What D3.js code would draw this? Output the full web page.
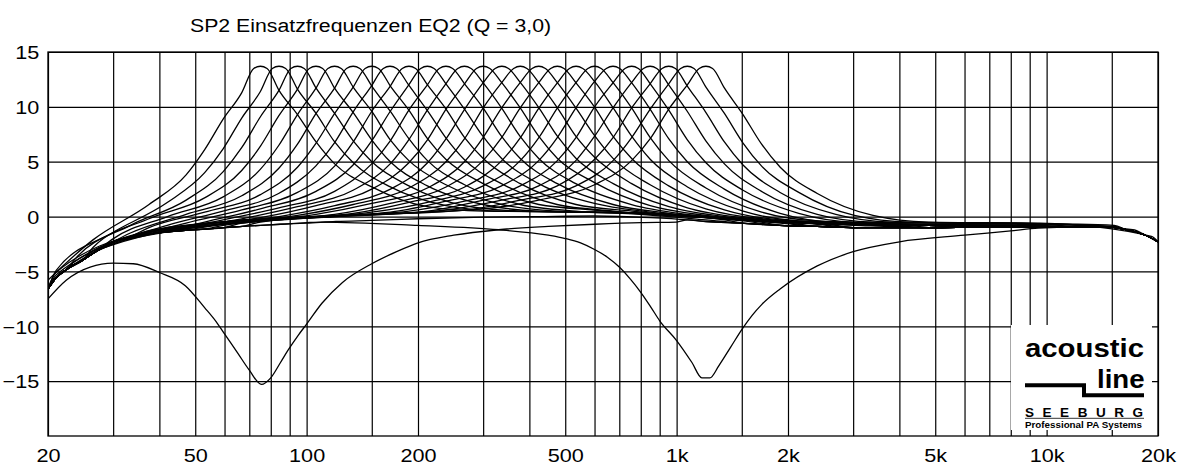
<!DOCTYPE html>
<html>
<head>
<meta charset="utf-8">
<script src="https://cdn.jsdelivr.net/npm/d3@7"></script>
<style>
  html, body { margin: 0; padding: 0; background: #fff; }
  svg { display: block; font-family: "Liberation Sans", Arial, sans-serif; }
</style>
</head>
<body>
<div id="chart"></div>
<script>
// Axis data
const gridHz = [20, 30, 40, 50, 60, 70, 80, 90, 100, 150, 200, 300, 400, 500, 600, 700, 800, 900,
    1000, 1500, 2000, 3000, 4000, 5000, 6000, 7000, 8000, 9000, 10000, 15000, 20000]
const xLabelHz = [20, 50, 100, 200, 500, 1000, 2000, 5000, 10000, 20000]
const xLabels = ["20", "50", "100", "200", "500", "1k", "2k", "5k", "10k", "20k"]
const yTicks = [-15, -10, -5, 0, 5, 10, 15]

// Flat response (EQ off)
const baseHz = [20, 21, 22.5, 25, 27.5, 30, 33, 37.5, 42, 47, 53, 60, 67, 75, 85, 100, 120, 150, 200, 300,
    420, 600, 850, 1070, 1200, 1500, 1900, 2400, 3000, 4800, 6800, 9600, 12000, 15000, 16400, 18500, 20000]
const baseDb = [-6.6, -5.6, -4.8, -3.9, -3.0, -2.3, -1.9, -1.6, -1.4, -1.25, -1.15, -1.0, -0.9, -0.8, -0.7, -0.6, -0.45, -0.35, -0.2, -0.05,
    0, 0.05, -0.1, -0.3, -0.45, -0.6, -0.8, -0.9, -1.0, -1.0, -0.95, -0.95, -0.95, -0.95, -1.2, -1.7, -2.3]

// EQ2 boost curves: centre frequencies and read points at octave offsets round each centre
const eqCenters = [75, 84.2, 94.5, 106, 119, 133.6, 150, 168, 189, 212, 238, 267, 300, 337, 378, 424,
    476, 535, 600, 673, 756, 848, 952, 1069, 1200]
const eqOffsetsOct = [-4, -3, -2, -1.5, -1, -0.667, -0.5, -0.333, -0.167, -0.06, 0, 0.06,
    0.167, 0.333, 0.5, 0.667, 1, 1.5, 2, 3, 4]
const eqDb = [
    [null, null, -6.7, -2.1, 1.1, 3.8, 6.1, 8.9, 11.3, 13.5, 13.7, 13.5, 11.5, 9.3, 6.8, 4.8, 2.7, 0.9, 0.5, 0.4, -0.3],
    [null, null, -4.9, -1.5, 1.3, 4.0, 6.2, 9.0, 11.4, 13.5, 13.7, 13.5, 11.6, 9.4, 6.8, 4.9, 2.7, 1.0, 0.5, 0.4, -0.3],
    [null, null, -3.9, -0.8, 1.5, 4.1, 6.3, 9.1, 11.5, 13.5, 13.7, 13.5, 11.7, 9.4, 6.9, 5.0, 2.8, 1.0, 0.5, 0.3, -0.4],
    [null, null, -2.8, -0.2, 1.7, 4.2, 6.4, 9.2, 11.6, 13.5, 13.7, 13.5, 11.7, 9.5, 7.0, 5.0, 2.8, 1.1, 0.5, 0.3, -0.5],
    [null, null, -2.1, 0.0, 1.8, 4.3, 6.5, 9.3, 11.7, 13.5, 13.7, 13.5, 11.8, 9.6, 7.0, 5.1, 2.9, 1.1, 0.5, 0.2, -0.6],
    [null, null, -1.5, 0.2, 1.9, 4.4, 6.6, 9.4, 11.7, 13.5, 13.7, 13.5, 11.9, 9.6, 7.1, 5.1, 2.9, 1.1, 0.5, 0.1, -0.7],
    [null, null, -1.0, 0.4, 2.0, 4.5, 6.7, 9.4, 11.8, 13.5, 13.7, 13.5, 11.9, 9.7, 7.1, 5.2, 3.0, 1.1, 0.6, -0.1, -0.7],
    [null, -5.1, -0.8, 0.5, 2.1, 4.6, 6.7, 9.5, 11.9, 13.5, 13.7, 13.5, 12.0, 9.7, 7.2, 5.2, 3.0, 1.1, 0.5, -0.2, -0.8],
    [null, -4.1, -0.6, 0.6, 2.2, 4.6, 6.8, 9.6, 11.9, 13.5, 13.7, 13.5, 12.0, 9.8, 7.2, 5.3, 3.0, 1.1, 0.5, -0.3, -0.8],
    [null, -3.1, -0.5, 0.7, 2.3, 4.7, 6.9, 9.6, 12.0, 13.5, 13.7, 13.5, 12.1, 9.8, 7.3, 5.3, 3.0, 1.2, 0.4, -0.4, -0.8],
    [null, -2.4, -0.3, 0.8, 2.3, 4.8, 6.9, 9.7, 12.0, 13.5, 13.7, 13.5, 12.1, 9.9, 7.3, 5.3, 3.0, 1.1, 0.3, -0.5, -0.8],
    [null, -1.8, -0.2, 0.9, 2.4, 4.8, 7.0, 9.7, 12.1, 13.5, 13.7, 13.5, 12.2, 9.9, 7.3, 5.3, 3.0, 1.1, 0.2, -0.5, -0.8],
    [null, -1.3, -0.1, 1.0, 2.5, 4.9, 7.0, 9.8, 12.1, 13.5, 13.7, 13.5, 12.2, 9.9, 7.3, 5.3, 3.1, 1.0, 0.1, -0.6, -0.8],
    [-5.3, -1.1, 0.0, 1.0, 2.5, 4.9, 7.1, 9.8, 12.2, 13.5, 13.7, 13.5, 12.2, 9.9, 7.3, 5.3, 3.0, 0.9, 0.0, -0.6, -0.8],
    [-4.3, -0.9, 0.1, 1.1, 2.6, 5.0, 7.1, 9.9, 12.2, 13.5, 13.7, 13.5, 12.2, 9.9, 7.3, 5.4, 3.0, 0.8, -0.1, -0.7, -0.8],
    [-3.3, -0.7, 0.2, 1.2, 2.6, 5.0, 7.2, 9.9, 12.2, 13.5, 13.7, 13.5, 12.2, 9.9, 7.4, 5.3, 2.9, 0.7, -0.2, -0.7, -0.8],
    [-2.6, -0.5, 0.2, 1.2, 2.7, 5.1, 7.2, 9.9, 12.2, 13.5, 13.7, 13.5, 12.2, 10.0, 7.3, 5.3, 2.8, 0.6, -0.3, -0.7, -0.8],
    [-2.0, -0.4, 0.3, 1.3, 2.7, 5.1, 7.2, 9.9, 12.2, 13.5, 13.7, 13.5, 12.3, 9.9, 7.3, 5.2, 2.7, 0.5, -0.4, -0.7, -0.8],
    [-1.6, -0.3, 0.4, 1.3, 2.8, 5.1, 7.2, 9.9, 12.2, 13.5, 13.7, 13.5, 12.2, 9.9, 7.2, 5.1, 2.6, 0.4, -0.4, -0.7, -0.8],
    [-1.3, -0.2, 0.4, 1.4, 2.8, 5.1, 7.2, 9.9, 12.3, 13.5, 13.7, 13.5, 12.2, 9.8, 7.1, 5.0, 2.5, 0.3, -0.5, -0.6, -0.8],
    [-1.1, -0.1, 0.5, 1.4, 2.8, 5.1, 7.2, 10.0, 12.2, 13.5, 13.7, 13.5, 12.1, 9.7, 7.0, 4.9, 2.4, 0.3, -0.5, -0.6, -0.8],
    [-0.95, -0.1, 0.5, 1.5, 2.8, 5.1, 7.3, 9.9, 12.2, 13.5, 13.7, 13.5, 12.0, 9.6, 6.9, 4.8, 2.3, 0.2, -0.5, -0.6, -0.8],
    [-0.8, 0.0, 0.6, 1.5, 2.8, 5.2, 7.2, 9.9, 12.1, 13.5, 13.7, 13.5, 11.9, 9.5, 6.8, 4.7, 2.2, 0.2, -0.5, -0.6, -0.8],
    [-0.6, 0.1, 0.6, 1.5, 2.8, 5.1, 7.2, 9.8, 12.1, 13.5, 13.7, 13.5, 11.8, 9.4, 6.7, 4.6, 2.2, 0.1, -0.5, -0.6, -1.2],
    [-0.5, 0.2, 0.7, 1.5, 2.9, 5.1, 7.1, 9.8, 12.0, 13.5, 13.7, 13.5, 11.7, 9.3, 6.6, 4.5, 2.1, 0.1, -0.5, -0.6, -1.8]
]

// Cut curves (low and high end of the range)
const cutLowHz = [20, 22.4, 26, 30, 34, 40, 47, 53, 57, 60, 65, 70, 75.5, 80, 85, 89, 95, 100, 110, 125,
    150, 175, 200, 250, 330, 450, 600, 800, 1000]
const cutLowDb = [-7.5, -5.8, -4.6, -4.25, -4.3, -5.1, -6.3, -8.3, -9.6, -10.7, -12.4, -14.0, -15.3, -14.7, -13.3, -12.2, -10.8, -9.8, -7.9, -6.0,
    -4.3, -3.2, -2.4, -1.7, -1.2, -0.9, -0.7, -0.55, -0.5]
const cutHighHz = [100, 110, 200, 330, 450, 500, 550, 600, 650, 700, 750, 800, 850, 900, 1000, 1100, 1170, 1230, 1300,
    1400, 1500, 1600, 1700, 1904, 2400, 3000, 4000, 6000, 8000, 9500]
const cutHighDb = [-0.55, -0.5, -0.8, -1.2, -1.7, -2.0, -2.4, -3.0, -3.7, -4.6, -5.7, -6.9, -8.2, -9.5, -11.3, -13.3, -14.7, -14.7, -13.6,
    -11.9, -10.3, -9.0, -8.0, -6.6, -4.5, -3.2, -2.3, -1.7, -1.3, -1.05]

const titleText = "SP2 Einsatzfrequenzen EQ2 (Q = 3,0)"

// Layout
const width = 1182
const height = 466
const margin = { top: 52, right: 24, bottom: 30, left: 48 }
const graphWidth = width - margin.left - margin.right
const graphHeight = height - margin.top - margin.bottom
const stretch = 1.14

const svg = d3.select("#chart")
    .append("svg")
    .attr("width", width)
    .attr("height", height)

const x = d3.scaleLog().domain([20, 20000]).range([0, graphWidth])
const y = d3.scaleLinear().domain([-20, 15]).range([graphHeight, 0])

const graph = svg.append("g")
    .attr("transform", `translate(${margin.left}, ${margin.top})`)

graph.append("clipPath").attr("id", "plotClip")
    .append("rect")
    .attr("width", graphWidth)
    .attr("height", graphHeight)

// Grid via axes
const xAxis = d3.axisBottom(x)
    .tickValues(gridHz)
    .tickSize(-graphHeight)
    .tickFormat(d => {
        const i = xLabelHz.indexOf(d)
        return i < 0 ? "" : xLabels[i]
    })

const yAxis = d3.axisLeft(y)
    .tickValues(yTicks)
    .tickSize(-graphWidth)

const xAxisGroup = graph.append("g")
    .attr("transform", `translate(0, ${graphHeight})`)
    .call(xAxis)
xAxisGroup.select(".domain").remove()
xAxisGroup.selectAll("line")
    .attr("stroke", "#000")
    .attr("stroke-width", 1.2)
xAxisGroup.selectAll("text")
    .attr("y", 0)
    .attr("dy", null)
    .attr("transform", `translate(0, 25.5) scale(${stretch}, 1)`)
    .attr("fill", "#000")
    .style("font-size", "19px")
    .style("font-family", "'Liberation Sans', Arial, sans-serif")

const yAxisGroup = graph.append("g")
    .call(yAxis)
yAxisGroup.select(".domain").remove()
yAxisGroup.selectAll("line")
    .attr("stroke", "#000")
    .attr("stroke-width", 1.2)
yAxisGroup.selectAll("text")
    .attr("x", 0)
    .attr("dy", "0.36em")
    .attr("transform", `translate(-8.7, 0) scale(${stretch}, 1)`)
    .attr("fill", "#000")
    .style("font-size", "19px")
    .style("font-family", "'Liberation Sans', Arial, sans-serif")

// Curves
const line = d3.line()
    .x(d => x(d[0]))
    .y(d => y(d[1]))
    .curve(d3.curveMonotoneX)

const basePts = baseHz.map((f, i) => [f, baseDb[i]])

// joins read points of a curve with the flat response outside their range
const withBase = pts => {
    const lo = pts[0][0], hi = pts[pts.length - 1][0]
    return basePts.filter(p => p[0] < lo * 0.97)
        .concat(pts, basePts.filter(p => p[0] > hi * 1.03))
}

const curves = [basePts]
eqCenters.forEach((c, k) => {
    const pts = eqOffsetsOct
        .map((o, i) => [c * Math.pow(2, o), eqDb[k][i]])
        .filter(p => p[1] !== null)
    curves.push(withBase(pts))
})
curves.push(withBase(cutLowHz.map((f, i) => [f, cutLowDb[i]])))
curves.push(withBase(cutHighHz.map((f, i) => [f, cutHighDb[i]])))

const curveGroup = graph.append("g")
    .attr("clip-path", "url(#plotClip)")

curveGroup.selectAll(".curve")
    .data(curves)
    .enter()
    .append("path")
    .attr("class", "curve")
    .attr("d", line)
    .attr("fill", "none")
    .attr("stroke", "#000")
    .attr("stroke-width", 1.3)

// Frame
graph.append("rect")
    .attr("width", graphWidth)
    .attr("height", graphHeight)
    .attr("fill", "none")
    .attr("stroke", "#000")
    .attr("stroke-width", 1.3)

// Title
svg.append("text")
    .attr("transform", "translate(190, 31.5) scale(1.12, 1)")
    .style("font-size", "19px")
    .attr("fill", "#000")
    .text(titleText)

// Logo
const logo = svg.append("g")
logo.append("rect")
    .attr("x", 1011)
    .attr("y", 325)
    .attr("width", 141)
    .attr("height", 105)
    .attr("fill", "#fff")
logo.append("text")
    .attr("x", 1025).attr("y", 356.7)
    .attr("textLength", 119).attr("lengthAdjust", "spacingAndGlyphs")
    .style("font-size", "25.5px").style("font-weight", "bold")
    .text("acoustic")
logo.append("text")
    .attr("x", 1097).attr("y", 388.3)
    .attr("textLength", 47.5).attr("lengthAdjust", "spacingAndGlyphs")
    .style("font-size", "25.5px").style("font-weight", "bold")
    .text("line")
logo.append("path")
    .attr("d", "M1025,385.3 H1084 V395.3 H1144")
    .attr("fill", "none")
    .attr("stroke", "#000")
    .attr("stroke-width", 4)
logo.append("text")
    .attr("x", 1025).attr("y", 416.7)
    .attr("textLength", 118).attr("lengthAdjust", "spacing")
    .style("font-size", "13.5px").style("font-weight", "bold")
    .text("SEEBURG")
logo.append("line")
    .attr("x1", 1025).attr("x2", 1144)
    .attr("y1", 418.3).attr("y2", 418.3)
    .attr("stroke", "#000")
    .attr("stroke-width", 0.8)
logo.append("text")
    .attr("x", 1025).attr("y", 428.3)
    .attr("textLength", 117).attr("lengthAdjust", "spacingAndGlyphs")
    .style("font-size", "8.5px").style("font-weight", "bold")
    .text("Professional PA Systems")
</script>
</body>
</html>
